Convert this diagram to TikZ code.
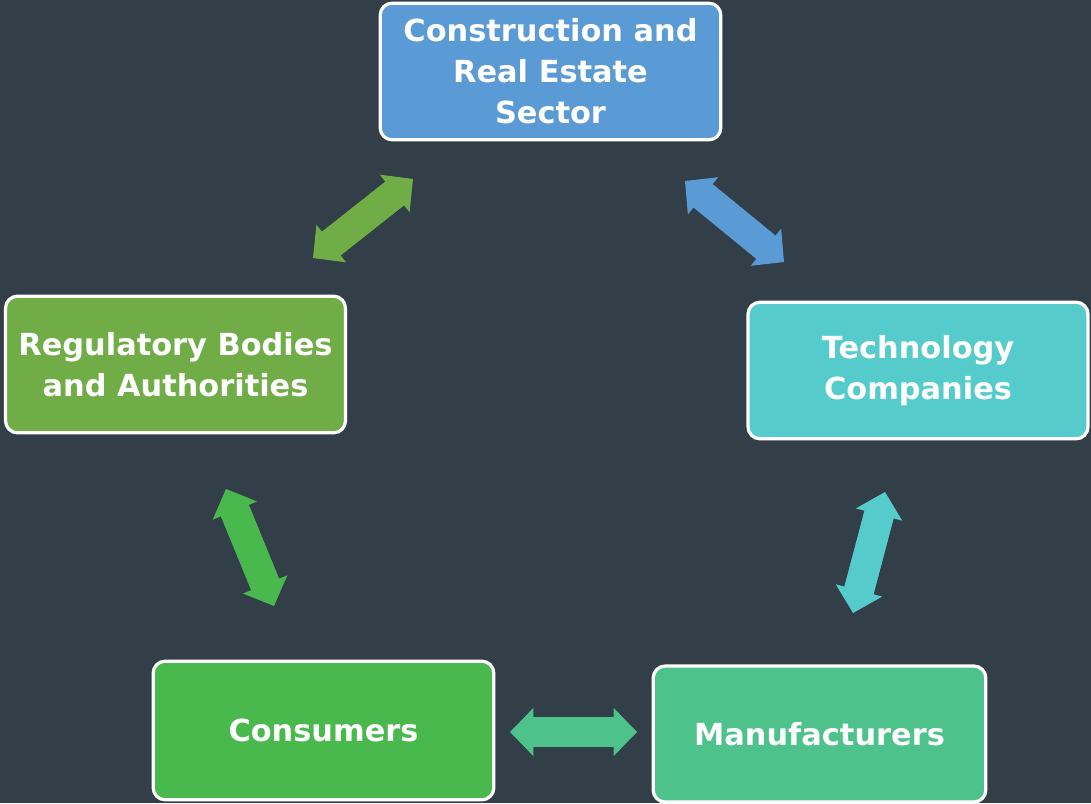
\documentclass[tikz,border=0pt]{standalone}
\usepackage{fontspec}
\usepackage{tikz}
\usetikzlibrary{arrows.meta}
\setmainfont{DejaVu Sans}

\definecolor{bgslate}{RGB}{51,63,72}
\definecolor{boxblue}{RGB}{91,155,213}
\definecolor{boxcyan}{RGB}{86,203,204}
\definecolor{boxolive}{RGB}{112,173,71}
\definecolor{boxgreen}{RGB}{73,185,78}
\definecolor{boxmint}{RGB}{77,195,139}

\tikzset{
	sector/.style={draw=white, line width=2.4pt, rounded corners=9pt, text=white, align=center,
		font=\fontsize{22.8}{30.7}\selectfont\bfseries, inner sep=0pt},
	link/.style={line width=22.5pt, {Triangle[width=36pt, length=17.5pt, line width=0pt]}-{Triangle[width=36pt, length=17.5pt, line width=0pt]},
		postaction={draw, arrows=-, shorten <=14pt, shorten >=14pt}}
}

\begin{document}
\begin{tikzpicture}[x=0.75pt, y=-0.75pt]
			\fill[bgslate] (0,0) rectangle (1091,803);

			\node[sector, fill=boxblue, minimum width=255.5pt, minimum height=102.5pt] (construction) at (550.5,71.5) {Construction and\\Real Estate\\Sector};
			\node[sector, fill=boxcyan, minimum width=255pt, minimum height=102.5pt] (technology) at (918,370.5) {Technology\\Companies};
			\node[sector, fill=boxolive, minimum width=255pt, minimum height=102.5pt] (regulatory) at (175.5,364.5) {Regulatory Bodies\\and Authorities};
			\node[sector, fill=boxgreen, minimum width=255.5pt, minimum height=104pt] (consumers) at (323.5,730.5) {Consumers};
			\node[sector, fill=boxmint, minimum width=249.5pt, minimum height=102pt] (manufacturers) at (819.5,734) {Manufacturers};

			% arrows between the sectors
			\coordinate (regA) at (313,258);
			\coordinate (conA) at (413,179);
			\coordinate (conB) at (685,181);
			\coordinate (tecB) at (784,262);
			\coordinate (tecC) at (885,492);
			\coordinate (manC) at (853,613);
			\coordinate (manD) at (637,732);
			\coordinate (cusD) at (510,732);
			\coordinate (cusE) at (274,606);
			\coordinate (regE) at (226,489);

			\draw[link, boxolive] (regA) -- (conA);
			\draw[link, boxblue] (conB) -- (tecB);
			\draw[link, boxcyan] (tecC) -- (manC);
			\draw[link, boxmint] (manD) -- (cusD);
			\draw[link, boxgreen] (cusE) -- (regE);
		\end{tikzpicture}
\end{document}
